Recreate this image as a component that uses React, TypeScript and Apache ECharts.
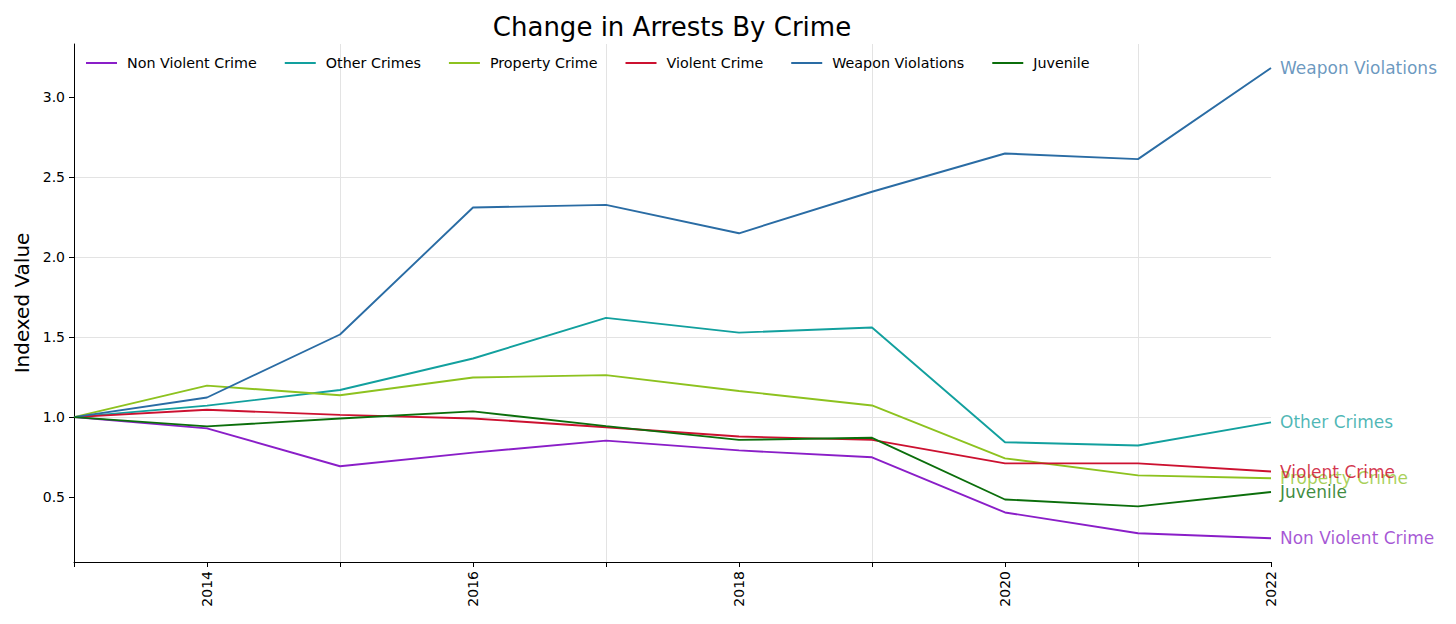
import React, { useEffect, useRef } from "react";
import * as echarts from "echarts";

const years = [2013, 2014, 2015, 2016, 2017, 2018, 2019, 2020, 2021, 2022];
const yearLabels = [2014, 2016, 2018, 2020, 2022];
const yTickValues = [0.5, 1.0, 1.5, 2.0, 2.5, 3.0];

const seriesNames = [
  "Non Violent Crime",
  "Other Crimes",
  "Property Crime",
  "Violent Crime",
  "Weapon Violations",
  "Juvenile",
];

const nonViolent = [1.0, 0.93, 0.693, 0.778, 0.853, 0.792, 0.749, 0.404, 0.274, 0.243];
const otherCrimes = [1.0, 1.072, 1.17, 1.367, 1.621, 1.529, 1.561, 0.843, 0.823, 0.967];
const propertyCrime = [1.0, 1.197, 1.137, 1.248, 1.263, 1.164, 1.073, 0.742, 0.636, 0.618];
const violentCrime = [1.0, 1.046, 1.014, 0.992, 0.937, 0.879, 0.858, 0.711, 0.711, 0.66];
const weaponViolations = [1.0, 1.123, 1.517, 2.311, 2.328, 2.15, 2.41, 2.649, 2.614, 3.184];
const juvenile = [1.0, 0.942, 0.992, 1.036, 0.944, 0.858, 0.871, 0.485, 0.442, 0.532];

const seriesValues = [nonViolent, otherCrimes, propertyCrime, violentCrime, weaponViolations, juvenile];
const lineColors = ["#8a1ec8", "#12a09e", "#8dc21f", "#cc1130", "#2a6ca4", "#0b6e0b"];
const labelColors = [
  "rgba(138,30,200,0.75)",
  "rgba(18,160,158,0.75)",
  "rgba(141,194,31,0.75)",
  "rgba(204,17,48,0.85)",
  "rgba(42,108,164,0.7)",
  "rgba(11,110,11,0.8)",
];

const FONT = "DejaVu Sans";

export default function App() {
  const ref = useRef<HTMLDivElement>(null);

  useEffect(() => {
    if (!ref.current) return;
    const chart = echarts.init(ref.current, null, { renderer: "svg" });

    const series = seriesNames.map((name, i) => ({
      name,
      type: "line",
      data: years.map((y, j) => [y, seriesValues[i][j]]),
      showSymbol: false,
      symbol: "none",
      color: lineColors[i],
      lineStyle: { width: 1.9, color: lineColors[i] },
      emphasis: { disabled: true },
      endLabel: {
        show: true,
        formatter: "{a}",
        color: labelColors[i],
        fontSize: 17,
        fontFamily: FONT,
        distance: 9,
      },
    }));

    chart.setOption({
      animation: false,
      textStyle: { fontFamily: FONT },
      grid: { left: 74, right: 185, top: 44, bottom: 62, containLabel: false },
      graphic: [
        {
          type: "text",
          x: 672,
          y: 27,
          style: {
            text: "Change in Arrests By Crime",
            fontSize: 26,
            fontFamily: FONT,
            fill: "#000",
            align: "center",
            verticalAlign: "middle",
          },
        },
      ],
      legend: {
        left: 81,
        top: 51,
        icon: "rect",
        itemWidth: 31,
        itemHeight: 2,
        itemGap: 28,
        textStyle: { fontSize: 14.3, fontFamily: FONT, color: "#000", padding: [0, 0, 0, 5] },
        data: seriesNames,
      },
      xAxis: {
        type: "value",
        min: 2013,
        max: 2022,
        interval: 1,
        axisLine: { show: true, lineStyle: { color: "#000", width: 1 } },
        axisTick: { show: true, length: 5, lineStyle: { color: "#000" } },
        axisLabel: {
          rotate: 90,
          fontSize: 14,
          color: "#000",
          fontFamily: FONT,
          margin: 9,
          customValues: yearLabels,
          formatter: (v: number) => String(v),
        },
        splitLine: {
          show: true,
          showMinLine: false,
          lineStyle: { color: ["rgba(0,0,0,0)", "#e3e3e3"], width: 1 },
        },
      },
      yAxis: {
        type: "value",
        min: 0.094,
        max: 3.334,
        name: "Indexed Value",
        nameLocation: "middle",
        nameRotate: 90,
        nameGap: 42,
        nameTextStyle: { fontSize: 20, fontFamily: FONT, color: "#000" },
        axisLine: { show: true, lineStyle: { color: "#000", width: 1 } },
        axisTick: { show: true, length: 5, lineStyle: { color: "#000" }, customValues: yTickValues },
        axisLabel: {
          fontSize: 14,
          color: "#000",
          fontFamily: FONT,
          margin: 9,
          customValues: yTickValues,
          formatter: (v: number) => v.toFixed(1),
        },
        splitLine: {
          show: true,
          showMinLine: false,
          showMaxLine: false,
          lineStyle: { color: "#e3e3e3", width: 1 },
        },
      },
      series,
    });

    return () => chart.dispose();
  }, []);

  return (
    <div
      ref={ref}
      style={{ position: "fixed", left: 0, top: 0, width: 1456, height: 624, background: "#fff" }}
    />
  );
}
